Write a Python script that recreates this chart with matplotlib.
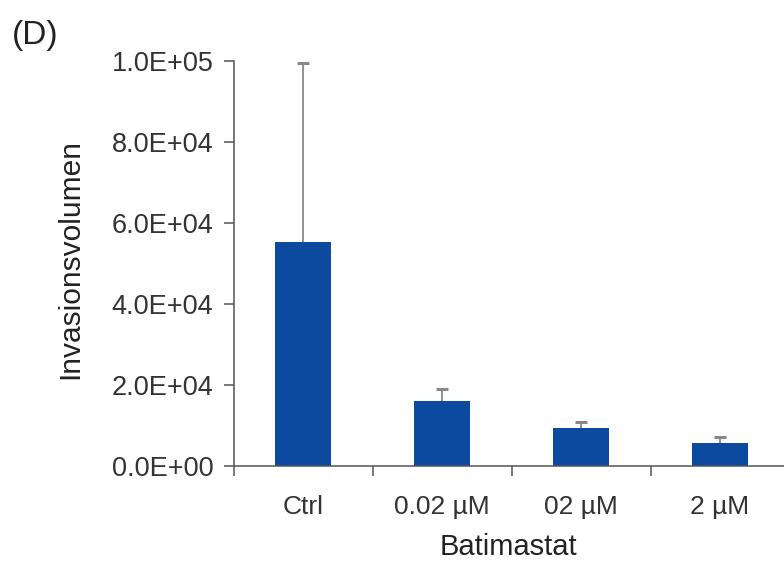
import matplotlib
matplotlib.use("Agg")
import matplotlib.pyplot as plt
import numpy as np

categories = ["Ctrl", "0.02 µM", "02 µM", "2 µM"]
means = [55300, 16000, 9200, 5500]
upper_err = [44200, 2900, 1600, 1600]
yticks = [0, 20000, 40000, 60000, 80000, 100000]
ytick_labels = ["0.0E+00", "2.0E+04", "4.0E+04", "6.0E+04", "8.0E+04", "1.0E+05"]

plt.rcParams['font.family'] = ['Liberation Sans', 'DejaVu Sans']
text_color = '#333333'
axis_color = '#555555'

fig = plt.figure(figsize=(7.84, 5.65), dpi=100)
ax = fig.add_axes([233.5/784, 1-465.5/565, 1-233.5/784, (465.5-61)/565])

x = np.arange(len(categories)) + 0.5
ax.bar(x, means, width=0.4, color='#0b4a9e', zorder=2)
eb = ax.errorbar(x, means, yerr=[np.zeros(len(means)), upper_err], fmt='none',
                 ecolor='#888888', elinewidth=1.3, capsize=4, capthick=2.2, zorder=1)
# remove lower caps (only upper error shown)
eb[1][0].remove()

ax.set_xlim(0, (784-233.5)/139.0)
ax.set_ylim(0, 100000)

ax.set_yticks(yticks)
ax.set_yticklabels(ytick_labels)
ax.set_xticks(x)
ax.set_xticklabels(categories)
ax.set_xticks(np.arange(len(categories)), minor=True)

for s in ['top', 'right']:
    ax.spines[s].set_visible(False)
for s in ['left', 'bottom']:
    ax.spines[s].set_color(axis_color)
    ax.spines[s].set_linewidth(1.1)

ax.tick_params(axis='y', direction='out', length=7.5, width=1.1, color=axis_color,
               labelsize=19.5, labelcolor=text_color, pad=7)
ax.tick_params(axis='x', which='major', length=0, labelsize=19, labelcolor=text_color, pad=21)
ax.tick_params(axis='x', which='minor', direction='out', length=7.5, width=1.1, color=axis_color)

ax.set_xlabel("Batimastat", fontsize=21, color='#222222', labelpad=10)
ax.set_ylabel("Invasionsvolumen", fontsize=21.5, color='#222222')
ax.yaxis.set_label_coords((84-233.5)/(784-233.5), 0.51)

fig.text(12/784, 1-20/565, "(D)", fontsize=24, color='#222222', ha='left', va='top')

fig.savefig("out.png", dpi=100)
